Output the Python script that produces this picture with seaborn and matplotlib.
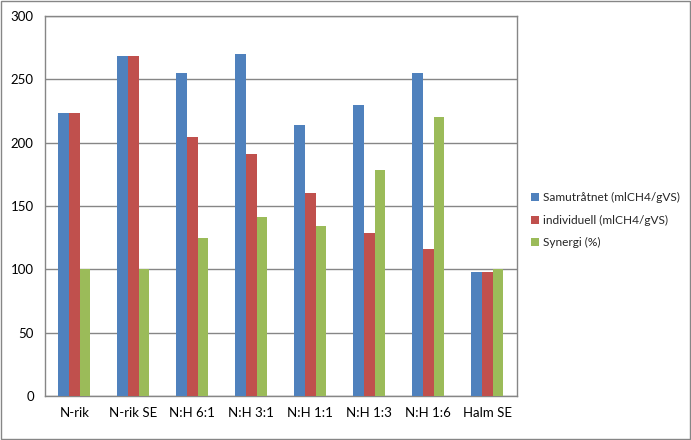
import matplotlib
matplotlib.use("Agg")
import matplotlib.pyplot as plt
import seaborn as sns
import pandas as pd
from matplotlib.patches import Rectangle

categories = ["N-rik", "N-rik SE", "N:H 6:1", "N:H 3:1", "N:H 1:1", "N:H 1:3", "N:H 1:6", "Halm SE"]
samutratnet = [223, 268, 255, 270, 214, 230, 255, 98]
individuell = [223, 268, 204, 191, 160, 129, 116, 98]
synergi = [100, 100, 125, 141, 134, 178, 220, 100]
series_names = ["Samutråtnet (mlCH4/gVS)", "individuell (mlCH4/gVS)", "Synergi (%)"]
colors = ["#4F81BD", "#C0504D", "#9BBB59"]

rows = []
for name, vals in zip(series_names, [samutratnet, individuell, synergi]):
    for c, v in zip(categories, vals):
        rows.append({"cat": c, "series": name, "value": v})
df = pd.DataFrame(rows)

sns.set_style("white")
plt.rcParams['font.family'] = ['Lato', 'DejaVu Sans']

fig = plt.figure(figsize=(6.91, 4.40), dpi=100)
ax = fig.add_axes([0.065, 0.1, 0.683, 0.864])
sns.barplot(data=df, x="cat", y="value", hue="series", order=categories,
            hue_order=series_names, palette=colors, width=0.54, saturation=1,
            ax=ax, zorder=3, linewidth=0, errorbar=None)

ax.set_ylim(0, 300)
ax.set_xlim(-0.5, len(categories) - 0.5)
ax.set_yticks(range(0, 301, 50))
ax.yaxis.grid(True, color="#868686", linewidth=1, zorder=0)
ax.set_axisbelow(True)
ax.set_xlabel("")
ax.set_ylabel("")
for s in ax.spines.values():
    s.set_color("#868686")
    s.set_linewidth(1)
ax.tick_params(axis="both", labelsize=9.5, colors="#000000", length=0, pad=6)
ax.tick_params(axis="y", length=4, direction="out", color="#868686", pad=4)
ax.tick_params(axis="x", length=4, direction="out", color="#868686", pad=8)
ax.set_xticks([i - 0.5 for i in range(len(categories) + 1)], minor=True)
ax.tick_params(axis="x", which="minor", length=4, color="#868686")
ax.tick_params(axis="x", which="major", length=0)

leg = ax.legend(loc="center left", bbox_to_anchor=(1.015, 0.462), frameon=False,
                fontsize=8.6, handlelength=0.7, handleheight=0.7, handletextpad=0.3,
                labelspacing=0.95, borderaxespad=0.2)

fig.patches.append(Rectangle((0.002, 0.003), 0.996, 0.994, transform=fig.transFigure,
                             fill=False, edgecolor="#868686", linewidth=1))
fig.savefig("out.png", dpi=100)
